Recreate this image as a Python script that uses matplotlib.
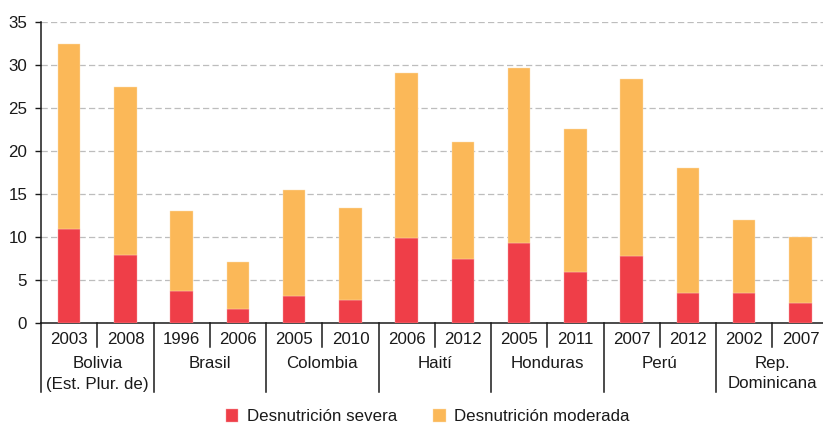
import matplotlib
matplotlib.use("Agg")
import matplotlib.pyplot as plt
import matplotlib.transforms as mtransforms
import numpy as np

plt.rcParams['font.family'] = ['Liberation Sans', 'DejaVu Sans']

countries = ["Bolivia\n(Est. Plur. de)", "Brasil", "Colombia", "Haití", "Honduras", "Perú", "Rep.\nDominicana"]
years = ["2003", "2008", "1996", "2006", "2005", "2010", "2006", "2012",
         "2005", "2011", "2007", "2012", "2002", "2007"]
severa = [10.9, 7.9, 3.7, 1.6, 3.1, 2.6, 9.8, 7.4, 9.3, 5.9, 7.75, 3.4, 3.5, 2.25]
total = [32.4, 27.4, 13.0, 7.05, 15.4, 13.3, 29.0, 21.0, 29.6, 22.5, 28.3, 17.95, 12.0, 9.97]
moderada = [round(t - s, 2) for t, s in zip(total, severa)]
legend_labels = ["Desnutrición severa", "Desnutrición moderada"]

c_sev = "#EF3E48"
c_mod = "#FBB858"
txt = "#1a1a1a"
fs = 12.2

W, H = 823, 423
fig = plt.figure(figsize=(W / 100, H / 100), dpi=100)
ax_left, ax_right = 41.1, 828.6
ax_top, ax_bot = 21.7, 322.7
ax = fig.add_axes([ax_left / W, 1 - ax_bot / H, (ax_right - ax_left) / W, (ax_bot - ax_top) / H])

x = np.arange(len(years))
ax.bar(x, severa, width=0.4, color=c_sev, edgecolor="#f7a0a5", linewidth=0.3, zorder=3, label=legend_labels[0])
ax.bar(x, moderada, width=0.4, bottom=severa, color=c_mod, edgecolor="#fde0b5", linewidth=0.3, zorder=3, label=legend_labels[1])

ax.set_xlim(-0.5, len(years) - 0.5)
ax.set_ylim(0, 35)
ax.set_yticks(np.arange(0, 36, 5))
ax.tick_params(axis='y', labelsize=fs, colors=txt, length=4, width=1, pad=6)
ax.tick_params(axis='x', bottom=False, labelbottom=False)
for v in range(5, 36, 5):
    ax.axhline(v, color="#BDBDBD", lw=0.9, dashes=(5, 2.6), zorder=1)
for s in ["top", "right"]:
    ax.spines[s].set_visible(False)
ax.spines["left"].set_linewidth(1.1)
ax.spines["bottom"].set_linewidth(1.1)
ax.spines["left"].set_color(txt)
ax.spines["bottom"].set_color(txt)

axh = ax_bot - ax_top
trans = mtransforms.blended_transform_factory(ax.transData, ax.transAxes)
def fy(px):
    return -px / axh

# separators
for i in range(len(years) + 1):
    xs = i - 0.5
    if i % 2 == 0:
        ax.plot([xs, xs], [0, fy(69)], transform=trans, color=txt, lw=1.1, clip_on=False)
    else:
        ax.plot([xs, xs], [0, fy(24.5)], transform=trans, color=txt, lw=1.1, clip_on=False)

for i, y in enumerate(years):
    ax.text(i, fy(16.6), y, transform=trans, ha='center', va='center', fontsize=fs, color=txt)

for j, c in enumerate(countries):
    lines = c.split("\n")
    for k, ln in enumerate(lines):
        ax.text(2 * j + 0.5, fy(40.6 + 20.7 * k), ln, transform=trans, ha='center', va='center',
                fontsize=fs, color=txt)

fig.legend(loc='center', bbox_to_anchor=(427.7 / W, 1 - 416.7 / H), ncol=2, frameon=False,
           fontsize=fs, handlelength=0.75, handleheight=0.75, handletextpad=0.49,
           columnspacing=2.15, labelcolor=txt)

fig.savefig("out.png", dpi=100)
